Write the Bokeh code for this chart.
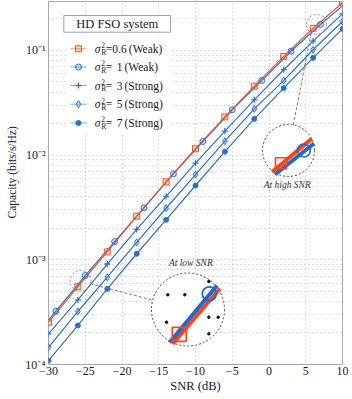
import math
from bokeh.plotting import figure
from bokeh.models import Range1d, FixedTicker, Title
from bokeh.core.properties import value
from bokeh.embed import file_html
from bokeh.resources import INLINE

# ---------------- data ----------------
snr_db = [-30, -26, -22, -18, -14, -10, -6, -2, 2, 6, 10]
cap_s06 = [2.53e-4, 5.56e-4, 1.19e-3, 2.61e-3, 5.56e-3, 1.151e-2, 2.32e-2, 4.56e-2, 8.79e-2, 0.163, 0.286]
snr_db_s1 = [-30, -29, -25, -21, -17, -13, -9, -5, -1, 3, 7, 10]
cap_s1 = [2.65e-4, 3.23e-4, 7.08e-4, 1.496e-3, 3.14e-3, 6.64e-3, 1.35e-2, 2.71e-2, 5.16e-2, 9.84e-2, 0.177, 0.267]
cap_s3 = [1.96e-4, 4.15e-4, 9.12e-4, 1.95e-3, 4.03e-3, 8.38e-3, 1.70e-2, 3.38e-2, 6.55e-2, 0.123, 0.224]
cap_s5 = [1.46e-4, 3.21e-4, 6.82e-4, 1.47e-3, 3.11e-3, 6.53e-3, 1.36e-2, 2.77e-2, 5.16e-2, 0.1016, 0.189]
cap_s7 = [1.09e-4, 2.36e-4, 5.28e-4, 1.143e-3, 2.41e-3, 5.13e-3, 1.08e-2, 2.22e-2, 4.37e-2, 8.51e-2, 0.161]

sigma_vals = ["0.6", "1", "3", "5", "7"]
regimes = ["Weak", "Weak", "Strong", "Strong", "Strong"]

x_ticks = [-30, -25, -20, -15, -10, -5, 0, 5, 10]
x_tick_labels = ["\u221230", "\u221225", "\u221220", "\u221215", "\u221210", "\u22125", "0", "5", "10"]
y_ticks = [1e-4, 1e-3, 1e-2, 1e-1]
y_tick_labels = ["10\u207b\u2074", "10\u207b\u00b3", "10\u207b\u00b2", "10\u207b\u00b9"]

title_text = "HD FSO system"
x_label = "SNR (dB)"
y_label = "Capacity (bits/s/Hz)"

# ---------------- styling ----------------
FONT = "Liberation Serif"
RED = "#f4511e"
BLUE = "#2a6fd0"
RED_I = "#ff4316"
BLUE_I = "#2468cc"
GRID = "#b8b8b8"
TXT = "#1a1a1a"

Y_MIN, Y_MAX = 1e-4, 0.2938
p = figure(frame_width=294, frame_height=363, y_axis_type="log",
           x_range=Range1d(-30, 10), y_range=Range1d(Y_MIN, Y_MAX),
           output_backend="svg", toolbar_location=None,
           min_border_left=48, min_border_right=10, min_border_top=1, min_border_bottom=35)
p.background_fill_color = "white"
p.border_fill_color = "white"
p.outline_line_color = "#a8a8a8"
p.outline_line_width = 1

# axes
p.xaxis.ticker = FixedTicker(ticks=x_ticks)
p.xaxis.major_label_overrides = dict(zip(x_ticks, x_tick_labels))
minor_y = [k * 10.0 ** e for e in range(-4, 0) for k in range(2, 10)]
p.yaxis.ticker = FixedTicker(ticks=y_ticks, minor_ticks=minor_y)
p.yaxis.major_label_overrides = {t: l for t, l in zip(y_ticks, y_tick_labels)}
for ax in (p.xaxis, p.yaxis):
    ax.axis_line_color = None
    ax.major_tick_line_color = None
    ax.minor_tick_line_color = None
    ax.major_tick_out = 0
    ax.minor_tick_out = 0
    ax.major_tick_in = 0
    ax.minor_tick_in = 0
    ax.major_label_text_font = FONT
    ax.major_label_text_font_size = "12px"
    ax.major_label_text_color = TXT
p.xaxis.major_label_standoff = 2
p.yaxis.major_label_standoff = 3
p.xaxis.axis_label = x_label
p.xaxis.axis_label_text_font = FONT
p.xaxis.axis_label_text_font_size = "12.5px"
p.xaxis.axis_label_text_font_style = "normal"
p.xaxis.axis_label_text_color = TXT
p.xaxis.axis_label_standoff = 1

ytitle = Title(text=y_label, align="left", offset=146, standoff=7, vertical_align="middle",
               text_font=FONT, text_font_size="11.5px", text_font_style="normal", text_color=TXT)
p.add_layout(ytitle, "left")

# grid
p.xgrid.grid_line_color = GRID
p.xgrid.grid_line_dash = "1 3"
p.ygrid.grid_line_color = GRID
p.ygrid.grid_line_dash = "1 3"
p.ygrid.minor_grid_line_color = GRID
p.ygrid.minor_grid_line_dash = "1 3"

# reference-pixel helpers (for decorations only)
def Xd(px):
    return -30 + (px - 48) * 40.0 / 294.0

def Yd(py):
    return 10 ** (-4 + (364 - py) / 104.67)

# ---------------- data series ----------------
lw = 1.2
p.line(snr_db, cap_s7, color=BLUE, line_width=lw)
p.scatter(snr_db, cap_s7, marker="circle", size=5, color=BLUE)
p.line(snr_db, cap_s5, color=BLUE, line_width=lw)
p.scatter(snr_db, cap_s5, marker="diamond", size=7, line_color=BLUE, fill_color=BLUE, fill_alpha=0.25, line_width=1)
p.line(snr_db, cap_s3, color=BLUE, line_width=lw)
p.scatter(snr_db, cap_s3, marker="cross", size=6, line_color=BLUE, line_width=1.3)
p.line(snr_db_s1, cap_s1, color=BLUE, line_width=lw)
p.line(snr_db, cap_s06, color=RED, line_width=lw)
p.scatter(snr_db_s1[1:-1], cap_s1[1:-1], marker="circle", size=6, line_color=BLUE, fill_color=BLUE, fill_alpha=0.2, line_width=1)
p.scatter(snr_db, cap_s06, marker="square", size=6, line_color=RED, fill_color=RED, fill_alpha=0.2, line_width=1)

# ---------------- legend ----------------
p.quad(left=[Xd(67)], right=[Xd(171)], top=[Yd(38)], bottom=[Yd(133)], fill_color="white", line_color=None)
p.quad(left=[Xd(63.3)], right=[Xd(170)], top=[Yd(15)], bottom=[Yd(31.7)], fill_color="white", line_color="#a0a0a0", line_width=1)
p.text([Xd(116.7)], [Yd(23.5)], text=[title_text], text_font=value(FONT), text_font_size="12.5px",
       text_align="center", text_baseline="middle", text_color=TXT)

rows_y = [48.3, 66.5, 85.0, 103.7, 122.5]
marks = [("square", RED, 6), ("circle", BLUE, 6), ("cross", BLUE, 6), ("diamond", BLUE, 7), ("circle", BLUE, 5)]
for i, (sv, rg) in enumerate(zip(sigma_vals, regimes)):
    ry = Yd(rows_y[i])
    mk, col, sz = marks[i]
    p.line([Xd(70), Xd(86)], [ry, ry], color=col, line_width=1, alpha=0.6)
    if i == 4:
        p.scatter([Xd(78)], [ry], marker=mk, size=sz, color=col)
    elif mk == "cross":
        p.scatter([Xd(78)], [ry], marker=mk, size=sz, line_color=col, line_width=1.3)
    else:
        p.scatter([Xd(78)], [ry], marker=mk, size=sz, line_color=col, fill_color=col, fill_alpha=0.2, line_width=1)
    p.text([Xd(94.3)], [ry], text=["\u03c3"], text_font=value(FONT), text_font_style="italic",
           text_font_size="11.5px", text_align="left", text_baseline="middle", text_color=TXT)
    p.text([Xd(100.8)], [Yd(rows_y[i] - 3.6)], text=["2"], text_font=value(FONT),
           text_font_size="7.5px", text_align="left", text_baseline="middle", text_color=TXT)
    p.text([Xd(100.8)], [Yd(rows_y[i] + 3.4)], text=["R"], text_font=value(FONT),
           text_font_size="7.5px", text_align="left", text_baseline="middle", text_color=TXT)
    p.text([Xd(105.3)], [ry], text=["="], text_font=value(FONT),
           text_font_size="11.5px", text_align="left", text_baseline="middle", text_color=TXT)
    p.text([Xd(119.0)], [ry], text=[sv], text_font=value(FONT),
           text_font_size="11.5px", text_align="center", text_baseline="middle", text_color=TXT)
    px0 = 128.3 if "." in sv else 124.0
    p.text([Xd(px0)], [ry], text=["(" + rg + ")"], text_font=value(FONT),
           text_font_size="11.5px", text_align="left", text_baseline="middle", text_color=TXT)

# ---------------- zoom insets ----------------
CIRC = "#444444"
# high-SNR inset
p.line([Xd(310.5), Xd(292.8)], [Yd(33), Yd(124.5)], color="#777777", line_width=1, line_dash="3 2")
p.scatter([Xd(316)], [Yd(24)], marker="circle", size=20, fill_color=None, line_color="#888888", line_width=1, line_dash="2 2")
p.scatter([Xd(288)], [Yd(150)], marker="circle", size=52, fill_color="white", line_color=CIRC, line_width=1, line_dash="2 2")
p.line([Xd(274.5), Xd(313.5)], [Yd(174), Yd(143)], color=BLUE_I, line_width=4)
p.line([Xd(271.5), Xd(311.2)], [Yd(171.5), Yd(138.2)], color=RED_I, line_width=4)
p.scatter([Xd(280.5)], [Yd(162.8)], marker="square", size=11, fill_color=None, line_color=RED_I, line_width=1.6)
p.scatter([Xd(303.3)], [Yd(150)], marker="circle", size=13, fill_color=None, line_color=BLUE_I, line_width=1.6)
p.text([Xd(286.7)], [Yd(184)], text=["At high SNR"], text_font=value(FONT), text_font_style="italic",
       text_font_size="9.5px", text_align="center", text_baseline="middle", text_color="#333333")

# low-SNR inset
p.line([Xd(90), Xd(151)], [Yd(283.3), Yd(299.3)], color="#777777", line_width=1, line_dash="3 2")
p.scatter([Xd(80)], [Yd(280.5)], marker="circle", size=21, fill_color=None, line_color="#888888", line_width=1, line_dash="2 2")
p.scatter([Xd(187.5)], [Yd(309)], marker="circle", size=73, fill_color="white", line_color=CIRC, line_width=1, line_dash="2 2")
dots_px = [(167.3, 294.3), (184.3, 294.3), (208.3, 281), (166, 321.7), (208.3, 316.7), (217.7, 316.7), (208.3, 333.3)]
p.scatter([Xd(a) for a, b in dots_px], [Yd(b) for a, b in dots_px], marker="circle", size=2.5, color="#111111")
p.line([Xd(172), Xd(219.5)], [Yd(343.5), Yd(288)], color=RED_I, line_width=4)
p.line([Xd(169), Xd(216.5)], [Yd(342), Yd(285)], color=BLUE_I, line_width=4)
p.scatter([Xd(178.8)], [Yd(333.8)], marker="square", size=14, fill_color=None, line_color=RED_I, line_width=1.8)
p.scatter([Xd(208.8)], [Yd(293.3)], marker="circle", size=14, fill_color=None, line_color=BLUE_I, line_width=1.8)
p.text([Xd(190.3)], [Yd(262.3)], text=["At low SNR"], text_font=value(FONT), text_font_style="italic",
       text_font_size="9.5px", text_align="center", text_baseline="middle", text_color="#333333")

open("out.html", "w").write(file_html(p, INLINE))
